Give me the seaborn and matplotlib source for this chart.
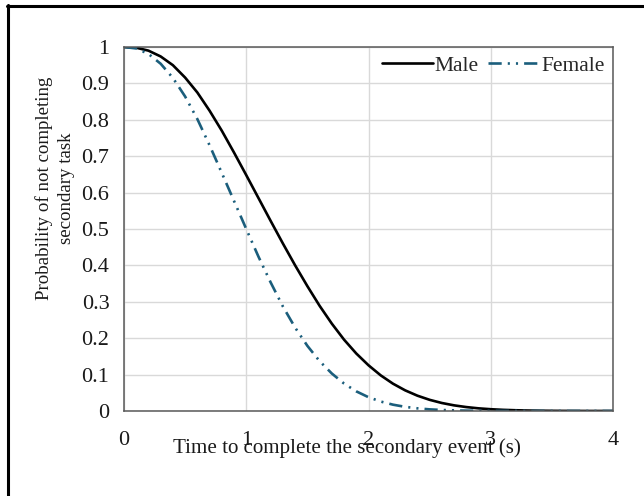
import numpy as np
import pandas as pd
import matplotlib
matplotlib.use("Agg")
import matplotlib.pyplot as plt
import seaborn as sns
from matplotlib.lines import Line2D

time_s = [round(0.1 * i, 1) for i in range(41)]
male = [1.000, 0.998, 0.990, 0.974, 0.950, 0.916, 0.875, 0.825, 0.770, 0.710,
        0.648, 0.585, 0.522, 0.460, 0.400, 0.343, 0.289, 0.240, 0.196, 0.158,
        0.1256, 0.0979, 0.0751, 0.0567, 0.0421, 0.0307, 0.0220, 0.0155, 0.0108, 0.0073,
        0.0049, 0.0032, 0.0021, 0.0013, 0.0008, 0.0005, 0.0003, 0.0002, 0.0001, 0.0001,
        0.0000]
female = [1.000, 0.996, 0.981, 0.954, 0.915, 0.864, 0.802, 0.730, 0.654, 0.577,
          0.500, 0.424, 0.353, 0.287, 0.229, 0.179, 0.137, 0.103, 0.0754, 0.0540,
          0.0379, 0.0260, 0.0174, 0.0114, 0.0073, 0.0045, 0.0028, 0.0017, 0.0010, 0.0006,
          0.0003, 0.0002, 0.0001, 0.0001, 0.0000, 0.0000, 0.0000, 0.0000, 0.0000, 0.0000,
          0.0000]
series_names = ["Male", "Female"]
x_ticks = [0, 1, 2, 3, 4]
y_ticks = [0, 0.1, 0.2, 0.3, 0.4, 0.5, 0.6, 0.7, 0.8, 0.9, 1]
y_tick_labels = ["0", "0.1", "0.2", "0.3", "0.4", "0.5", "0.6", "0.7", "0.8", "0.9", "1"]

df = pd.DataFrame({
    "t": time_s * 2,
    "p": male + female,
    "sex": [series_names[0]] * len(time_s) + [series_names[1]] * len(time_s),
})

sns.set_theme(style="white")
plt.rcParams['font.family'] = ['Liberation Serif', 'DejaVu Serif']

FS = 16
W, H = 644, 496
fig = plt.figure(figsize=(6.44, 4.96), dpi=100)
ax = fig.add_axes([124/W, 1 - 411/H, (613-124)/W, (411-47)/H])

colors = {"Male": "#000000", "Female": "#1B5E7C"}
fdash = (5, 2.3, 0.8, 2.3, 0.8, 2.3)
dashes = {"Male": "", "Female": fdash}
sns.lineplot(data=df, x="t", y="p", hue="sex", style="sex", palette=colors,
             dashes=dashes, linewidth=1.9, ax=ax, legend=False, sort=True)

ax.set_xlim(0, 4)
ax.set_ylim(0, 1)
ax.set_xticks(x_ticks)
ax.set_xticklabels([str(v) for v in x_ticks])
ax.set_yticks(y_ticks)
ax.set_yticklabels(y_tick_labels)
ax.grid(True, color="#D9D9D9", linewidth=1.0)
ax.set_axisbelow(True)
for s in ax.spines.values():
    s.set_color("#595959")
    s.set_linewidth(1.1)
ax.tick_params(axis="both", labelsize=FS, colors="#595959", labelcolor="#1a1a1a",
               length=5, width=1.0, direction="out", pad=5.5)
ax.tick_params(axis="x", pad=8.5, length=6)

ax.set_xlabel("")
ax.set_ylabel("")
fig.text(346.5/W, 1 - 453/H, "Time to complete the secondary event (s)",
         fontsize=15.1, ha="center", va="baseline", color="#1a1a1a")
fig.text(55/W, 1 - 188/H, "Probability of not completing\nsecondary task",
         fontsize=13.6, ha="center", va="center", rotation=90, multialignment="center",
         linespacing=1.45, color="#1a1a1a")

handles = [Line2D([], [], color=colors["Male"], lw=1.9),
           Line2D([], [], color=colors["Female"], lw=1.9, dashes=fdash)]
ax.legend(handles, series_names, loc="upper right", frameon=False, fontsize=15.5,
          ncol=2, handlelength=2.4, handletextpad=0.05, columnspacing=0.45,
          bbox_to_anchor=(1.0, 1.0), borderaxespad=0.0)

# outer chart border (top and left, as in the cropped reference)
fig.add_artist(Line2D([7.5/W, 7.5/W], [0, 1 - 5/H], transform=fig.transFigure,
                      color="black", lw=2.2))
fig.add_artist(Line2D([6.5/W, 1], [1 - 5.5/H, 1 - 5.5/H], transform=fig.transFigure,
                      color="black", lw=2.2))

fig.savefig("out.png", dpi=100)
